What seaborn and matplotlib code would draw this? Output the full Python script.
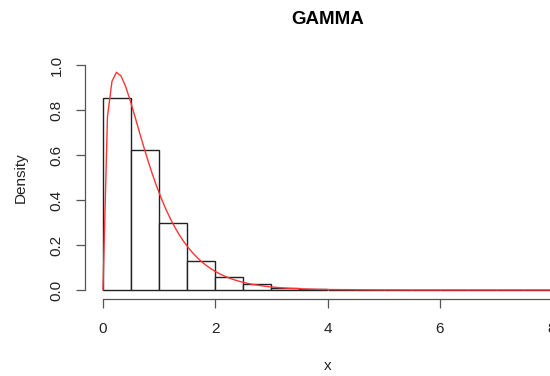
import numpy as np
import pandas as pd
import matplotlib
matplotlib.use("Agg")
import matplotlib.pyplot as plt
import seaborn as sns

# Histogram: bin edges and density height per bin
bin_edges = [0.0, 0.5, 1.0, 1.5, 2.0, 2.5, 3.0, 3.5, 4.0,
             4.5, 5.0, 5.5, 6.0, 6.5, 7.0, 7.5, 8.0]
bin_density = [0.852, 0.622, 0.296, 0.130, 0.056, 0.025, 0.010, 0.004,
               0.002, 0.001, 0.0005, 0.0003, 0.0002, 0.0001, 0.0001, 0.0001]

# Fitted gamma density curve, sampled points
curve_x = [0.00, 0.08, 0.16, 0.24, 0.32, 0.40, 0.48, 0.56, 0.64, 0.72,
           0.80, 0.88, 0.96, 1.04, 1.12, 1.20, 1.28, 1.36, 1.44, 1.52,
           1.60, 1.68, 1.76, 1.84, 1.92, 2.00, 2.08, 2.16, 2.24, 2.32,
           2.40, 2.48, 2.56, 2.64, 2.72, 2.80, 2.88, 2.96, 3.04, 3.12,
           3.20, 3.28, 3.36, 3.44, 3.52, 3.60, 3.68, 3.76, 3.84, 3.92,
           4.00, 4.80, 5.60, 6.40, 7.20, 8.00, 8.40]
curve_y = [0.0000, 0.7692, 0.9270, 0.9675, 0.9520, 0.9070, 0.8466, 0.7793,
           0.7099, 0.6416, 0.5763, 0.5151, 0.4585, 0.4066, 0.3596, 0.3172,
           0.2791, 0.2452, 0.2150, 0.1882, 0.1646, 0.1437, 0.1253, 0.1092,
           0.0951, 0.0827, 0.0718, 0.0624, 0.0541, 0.0469, 0.0407, 0.0352,
           0.0305, 0.0264, 0.0228, 0.0197, 0.0171, 0.0147, 0.0127, 0.0110,
           0.0095, 0.0082, 0.0071, 0.0061, 0.0052, 0.0045, 0.0039, 0.0033,
           0.0028, 0.0024, 0.0021, 0.0005, 0.0001, 0.0000, 0.0000, 0.0000,
           0.0000]

x_ticks = [0, 2, 4, 6, 8]
y_ticks = [0.0, 0.2, 0.4, 0.6, 0.8, 1.0]

sns.set_style("ticks")
plt.rcParams["font.family"] = ["Liberation Sans", "DejaVu Sans"]

fig = plt.figure(figsize=(5.5, 3.76), dpi=100)
ax = fig.add_axes([85 / 550, 77 / 376, 485 / 550, 243 / 376])

mids = [(a + b) / 2 for a, b in zip(bin_edges[:-1], bin_edges[1:])]
hist_df = pd.DataFrame({"x": mids, "w": bin_density})
sns.histplot(data=hist_df, x="x", weights="w", bins=bin_edges, stat="count",
             color="white", edgecolor="#222222", linewidth=1.0, alpha=1.0,
             ax=ax)

curve_df = pd.DataFrame({"x": curve_x, "y": curve_y})
sns.lineplot(data=curve_df, x="x", y="y", color="#ff3333", linewidth=1.0,
             ax=ax)

ax.set_xlim(-0.32, 8.32)
ax.set_ylim(-0.04, 1.04)

for side in ("top", "right"):
    ax.spines[side].set_visible(False)
ax.spines["left"].set_bounds(0, 1)
ax.spines["bottom"].set_bounds(0, 8)
for side in ("left", "bottom"):
    ax.spines[side].set_color("#555555")
    ax.spines[side].set_linewidth(0.9)

ax.set_xticks(x_ticks)
ax.set_xticklabels([str(t) for t in x_ticks])
ax.set_yticks(y_ticks)
ax.set_yticklabels([f"{t:.1f}" for t in y_ticks], rotation=90, va="center")
ax.tick_params(axis="both", length=6.5, width=0.9, color="#555555",
               labelsize=11, labelcolor="#222222")
ax.tick_params(axis="x", pad=10)
ax.tick_params(axis="y", pad=9)

ax.set_xlabel("x", fontsize=11, color="#222222", va="center")
ax.set_ylabel("Density", fontsize=11, color="#222222", va="center")
ax.xaxis.set_label_coords((327.5 - 85) / 485, (299 - 366) / 243)
ax.yaxis.set_label_coords((21 - 85) / 485, (299 - 178) / 243)

fig.text(327.5 / 550, 1 - 19 / 376, "GAMMA", ha="center", va="center",
         fontsize=13.5, fontweight="bold", color="black")

fig.savefig("out.png", dpi=100, facecolor="white")
